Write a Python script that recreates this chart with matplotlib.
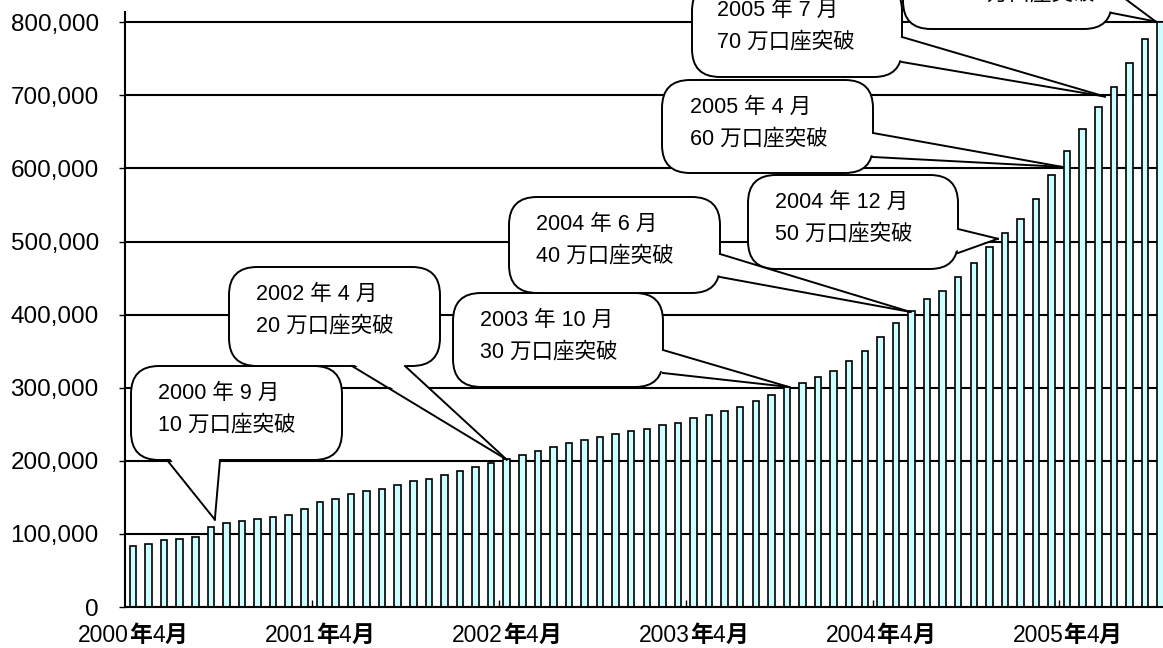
import matplotlib.pyplot as plt
from matplotlib.patches import FancyBboxPatch, Polygon
from matplotlib.lines import Line2D
from matplotlib.offsetbox import TextArea, HPacker, AnnotationBbox
from matplotlib.transforms import IdentityTransform

W, H = 1163, 648

# monthly account numbers, 2000/4 .. 2005/10
accounts = [83000, 86000, 91000, 93000, 96000, 110000, 115000, 118000, 121000, 123000,
            126000, 134000, 143000, 148000, 154000, 159000, 162000, 167000, 173000, 175000,
            181000, 186000, 192000, 197000, 203000, 208000, 214000, 219000, 225000, 228000,
            233000, 236000, 241000, 244000, 249000, 252000, 258000, 263000, 268000, 274000,
            282000, 290000, 301000, 307000, 315000, 323000, 337000, 350000, 370000, 389000,
            405000, 421000, 432000, 452000, 470000, 493000, 512000, 531000, 558000, 591000,
            624000, 654000, 684000, 712000, 744000, 777000, 801000]

label_pos = [0, 12, 24, 36, 48, 60]
label_years = ["2000", "2001", "2002", "2003", "2004", "2005"]
label_month = "4"

milestone_idx = [5, 24, 42, 50, 56, 60, 63, 66]
milestone_date = ["2000 年 9 月", "2002 年 4 月", "2003 年 10 月", "2004 年 6 月",
                  "2004 年 12 月", "2005 年 4 月", "2005 年 7 月", "2005 年 10 月"]
milestone_text = ["10 万口座突破", "20 万口座突破", "30 万口座突破", "40 万口座突破",
                  "50 万口座突破", "60 万口座突破", "70 万口座突破", "80 万口座突破"]

# callout layout in image pixels (left, top, right, bottom)
boxes = [(131, 366, 342, 460), (229, 267, 440, 366), (453, 293, 663, 387),
         (509, 197, 720, 293), (748, 175, 958, 269), (662, 80, 873, 173),
         (692, -17, 902, 77), (903, -65, 1112, 29)]
tail_base = [((167, 460), (220, 460)), ((352, 366), (405, 366)), ((663, 350), (663, 373)),
             ((720, 254), (720, 277)), ((958, 229), (958, 253)), ((873, 133), (873, 157)),
             ((902, 37), (902, 62)), ((1112, -11), (1112, 13))]
tip_offset = [(4, -7), (0, 1), (2, 0), (-1, 1), (-7, 6), (-5, 16), (-9, 10), (-5, 0)]
text_left = [158, 256, 480, 536, 775, 690, 717, 957]

plt.rcParams['font.family'] = ['Liberation Sans', 'Noto Sans CJK JP']

fig = plt.figure(figsize=(W / 100, H / 100), dpi=100)
x0, x1 = 125.2, 1168.4
ax = fig.add_axes([x0 / W, (H - 607) / H, (x1 - x0) / W, (607 - 12) / H])

ax.bar(range(len(accounts)), accounts, width=0.42, color='#CCFFFF',
       edgecolor='black', linewidth=1.2, zorder=2)
ax.set_xlim(-0.5, len(accounts) - 0.5)
ax.set_ylim(0, 814000)
ax.set_yticks(range(0, 800001, 100000))
ax.set_yticklabels([f"{v:,}" for v in range(0, 800001, 100000)], fontsize=17.5)
ax.yaxis.grid(True, color='black', linewidth=1.5)
ax.set_axisbelow(True)
ax.tick_params(axis='y', direction='out', length=4, width=1, pad=15)
ax.set_xticks([p - 0.5 for p in label_pos[1:]])
ax.set_xticklabels([])
ax.tick_params(axis='x', direction='in', length=5, width=1)
for s in ['top', 'right']:
    ax.spines[s].set_visible(False)
for s in ['left', 'bottom']:
    ax.spines[s].set_linewidth(1.5)

# x labels: digits regular, 年/月 bold
for p, yr in zip(label_pos, label_years):
    reg = dict(fontsize=16.5, family='Liberation Sans')
    bold = dict(fontsize=16.5, family='Noto Sans CJK JP', fontweight='bold')
    pack = HPacker(children=[TextArea(yr, textprops=reg), TextArea("年", textprops=bold),
                             TextArea(label_month, textprops=reg), TextArea("月", textprops=bold)],
                   align='baseline', pad=0, sep=0)
    ab = AnnotationBbox(pack, (p, 0), xycoords=('data', 'axes fraction'),
                        xybox=(0, -12), boxcoords='offset points', box_alignment=(0.5, 1),
                        frameon=False, pad=0, annotation_clip=False)
    ax.add_artist(ab)

ident = IdentityTransform()


def disp(x, y):
    return (x, H - y)


for i in range(len(milestone_idx)):
    l, t, r, b = boxes[i]
    box = FancyBboxPatch(disp(l, b), r - l, b - t, boxstyle="round,pad=0,rounding_size=28",
                         facecolor='white', edgecolor='black', linewidth=1.4,
                         transform=ident, zorder=5)
    fig.add_artist(box)
    tx, ty = ax.transData.transform((milestone_idx[i], accounts[milestone_idx[i]]))
    tip = (tx + tip_offset[i][0], ty - tip_offset[i][1])
    (ax_, ay_), (bx_, by_) = tail_base[i]
    a, bb = disp(ax_, ay_), disp(bx_, by_)
    # push base a little into the box so the fill hides the border
    cx, cy = disp((l + r) / 2, (t + b) / 2)
    a_in = (a[0] + (cx - a[0]) * 0.03, a[1] + (cy - a[1]) * 0.06)
    b_in = (bb[0] + (cx - bb[0]) * 0.03, bb[1] + (cy - bb[1]) * 0.06)
    fig.add_artist(Polygon([a_in, tip, b_in], closed=True, facecolor='white',
                           edgecolor='none', transform=ident, zorder=6))
    for p in (a, bb):
        fig.add_artist(Line2D([p[0], tip[0]], [p[1], tip[1]], color='black',
                              linewidth=1.4, transform=ident, zorder=7))
    fig.text(text_left[i], H - (t + 27.5), milestone_date[i], fontsize=15.5,
             va='center', ha='left', transform=ident, zorder=8)
    fig.text(text_left[i], H - (t + 59), milestone_text[i], fontsize=15.5,
             va='center', ha='left', transform=ident, zorder=8)

fig.savefig('out.png', dpi=100)
